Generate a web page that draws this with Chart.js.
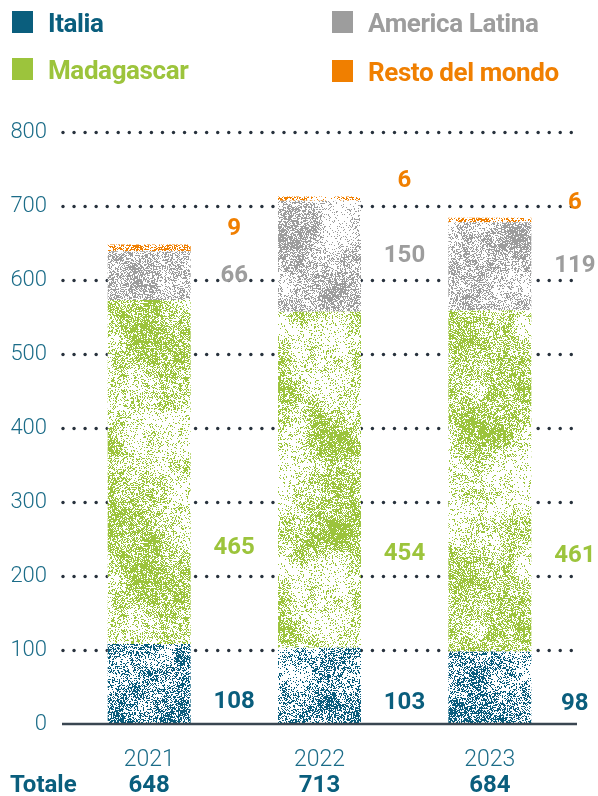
<!DOCTYPE html>
<html>
<head>
<meta charset="utf-8">
<script src="https://cdn.jsdelivr.net/npm/chart.js@4"></script>
<style>
  html, body { margin: 0; padding: 0; background: #ffffff; }
  #wrap { position: relative; width: 598px; height: 796px; overflow: hidden; }
  #chart { position: absolute; left: 0; top: 0; }
  .key { position: absolute; font-family: Roboto, "Noto Sans", sans-serif; font-weight: 700;
         font-size: 26px; line-height: 26px; white-space: nowrap; letter-spacing: -0.4px; }
  .key i { position: absolute; left: -36px; top: 1px; width: 21px; height: 22px; }
</style>
</head>
<body>
<div id="wrap">
  <canvas id="chart" width="598" height="796"></canvas>
  <div class="key" style="left:48px;top:10px;color:#0a5e7d"><i style="background:#0a5e7d"></i>Italia</div>
  <div class="key" style="left:368px;top:10px;color:#9d9d9d"><i style="background:#9d9d9d"></i>America Latina</div>
  <div class="key" style="left:48px;top:57px;color:#9cc43c"><i style="background:#9cc43c"></i>Madagascar</div>
  <div class="key" style="left:368px;top:59px;color:#f07f00"><i style="background:#f07f00"></i>Resto del mondo</div>
</div>
<script>
// Categories and series values
const years = ['2021', '2022', '2023'];
const italia = [108, 103, 98];
const madagascar = [465, 454, 461];
const americaLatina = [66, 150, 119];
const restoDelMondo = [9, 6, 6];
const totali = [648, 713, 684];
const yTicks = [0, 100, 200, 300, 400, 500, 600, 700, 800];

const TEAL = '#0a5e7d';
const GREEN = '#9cc43c';
const GREY = '#9d9d9d';
const ORANGE = '#f07f00';
const AXIS_TEXT = '#1b6c88';
const FONT = 'Roboto, "Noto Sans", sans-serif';

// Small deterministic generator for the grainy bar fill
function mulberry32(a) {
  return function () {
    a |= 0; a = a + 0x6D2B79F5 | 0;
    let t = Math.imul(a ^ a >>> 15, 1 | a);
    t = t + Math.imul(t ^ t >>> 7, 61 | t) ^ t;
    return ((t ^ t >>> 14) >>> 0) / 4294967296;
  };
}

// Tileable smooth value noise on a cells x cells lattice
function valueNoise(rnd, cells, size) {
  const grid = [];
  for (let i = 0; i < cells * cells; i++) grid.push(rnd());
  const at = (gx, gy) => grid[((gy % cells + cells) % cells) * cells + ((gx % cells + cells) % cells)];
  const step = size / cells;
  return (x, y) => {
    const fx = x / step, fy = y / step;
    const x0 = Math.floor(fx), y0 = Math.floor(fy);
    let tx = fx - x0, ty = fy - y0;
    tx = tx * tx * (3 - 2 * tx); ty = ty * ty * (3 - 2 * ty);
    return (at(x0, y0) * (1 - tx) + at(x0 + 1, y0) * tx) * (1 - ty) +
           (at(x0, y0 + 1) * (1 - tx) + at(x0 + 1, y0 + 1) * tx) * ty;
  };
}

function grainPattern(hex, seed) {
  const size = 240;
  const c = document.createElement('canvas');
  c.width = c.height = size;
  const ctx = c.getContext('2d');
  const rnd = mulberry32(seed);
  const low = valueNoise(rnd, 5, size);
  const mid = valueNoise(rnd, 16, size);
  const fine = valueNoise(rnd, 48, size);
  const r = parseInt(hex.slice(1, 3), 16), g = parseInt(hex.slice(3, 5), 16), b = parseInt(hex.slice(5, 7), 16);
  const img = ctx.createImageData(size, size);
  for (let y = 0; y < size; y++) {
    for (let x = 0; x < size; x++) {
      const n = 0.5 * low(x, y) + 0.3 * mid(x, y) + 0.2 * fine(x, y);
      const p = Math.min(1, Math.max(0.12, (n - 0.22) * 1.55));
      const k = (y * size + x) * 4;
      if (rnd() < p) { img.data[k] = r; img.data[k + 1] = g; img.data[k + 2] = b; }
      else { img.data[k] = 255; img.data[k + 1] = 255; img.data[k + 2] = 255; }
      img.data[k + 3] = 255;
    }
  }
  ctx.putImageData(img, 0, 0);
  return document.getElementById('chart').getContext('2d').createPattern(c, 'repeat');
}

const series = [
  { label: 'Italia', data: italia, color: TEAL, seed: 11 },
  { label: 'Madagascar', data: madagascar, color: GREEN, seed: 23 },
  { label: 'America Latina', data: americaLatina, color: GREY, seed: 37 },
  { label: 'Resto del mondo', data: restoDelMondo, color: ORANGE, seed: 41 }
];

// Dotted horizontal guides and the solid baseline
const guides = {
  id: 'guides',
  beforeDatasetsDraw(chart) {
    const { ctx, chartArea: a, scales: { y } } = chart;
    ctx.save();
    ctx.fillStyle = '#27313c';
    yTicks.forEach(v => {
      if (v === 0) return;
      const py = Math.round(y.getPixelForValue(v)) + 0.5;
      for (let px = a.left - 1; px <= a.right + 3; px += 11.05) {
        ctx.beginPath();
        ctx.arc(px, py, 1.7, 0, Math.PI * 2);
        ctx.fill();
      }
    });
    ctx.restore();
  },
  afterDatasetsDraw(chart) {
    const { ctx, chartArea: a, scales: { y } } = chart;
    const py = y.getPixelForValue(0);
    ctx.save();
    ctx.strokeStyle = '#3a4651';
    ctx.lineWidth = 2.5;
    ctx.beginPath();
    ctx.moveTo(a.left - 2, py);
    ctx.lineTo(a.right + 2, py);
    ctx.stroke();
    ctx.restore();
  }
};

// Value labels beside each segment, plus the totals row
const valueLabels = {
  id: 'valueLabels',
  afterDraw(chart) {
    const { ctx, chartArea: a, scales: { x } } = chart;
    ctx.save();
    ctx.textAlign = 'center';
    ctx.textBaseline = 'middle';
    ctx.font = `700 24px ${FONT}`;
    chart.data.datasets.forEach((ds, i) => {
      const meta = chart.getDatasetMeta(i);
      meta.data.forEach((bar, j) => {
        const lx = bar.x + 85;
        let ly;
        if (i <= 1) ly = bar.base + (bar.y - bar.base) * 0.28;
        else if (i === 2) ly = (bar.base + bar.y) / 2;
        else ly = bar.y - 15;
        ctx.fillStyle = series[i].color;
        ctx.fillText(String(ds.data[j]), lx, ly);
      });
    });
    const ty = a.bottom + 62;
    ctx.fillStyle = TEAL;
    ctx.textAlign = 'left';
    ctx.fillText('Totale', 10, ty);
    ctx.textAlign = 'center';
    totali.forEach((t, j) => ctx.fillText(String(t), x.getPixelForValue(j), ty));
    ctx.restore();
  }
};

new Chart(document.getElementById('chart'), {
  type: 'bar',
  data: {
    labels: years,
    datasets: series.map(s => ({
      label: s.label,
      data: s.data,
      backgroundColor: grainPattern(s.color, s.seed),
      borderWidth: 0,
      barPercentage: 0.487,
      categoryPercentage: 1
    }))
  },
  options: {
    responsive: false,
    animation: false,
    devicePixelRatio: 1,
    layout: { padding: { top: 132, right: 23, left: 0, bottom: 0 } },
    plugins: { legend: { display: false }, tooltip: { enabled: false } },
    scales: {
      x: {
        stacked: true,
        grid: { display: false },
        border: { display: false },
        ticks: { color: AXIS_TEXT, font: { family: FONT, size: 23, weight: '300' }, padding: 14 },
        afterFit(s) { s.height = 72; }
      },
      y: {
        stacked: true,
        min: 0,
        max: 800,
        afterBuildTicks(s) { s.ticks = yTicks.map(v => ({ value: v })); },
        grid: { display: false, drawTicks: false },
        border: { display: false },
        ticks: { color: AXIS_TEXT, font: { family: FONT, size: 22, weight: '300' }, padding: 17 },
        afterFit(s) { s.width = 64; }
      }
    }
  },
  plugins: [guides, valueLabels]
});
</script>
</body>
</html>
